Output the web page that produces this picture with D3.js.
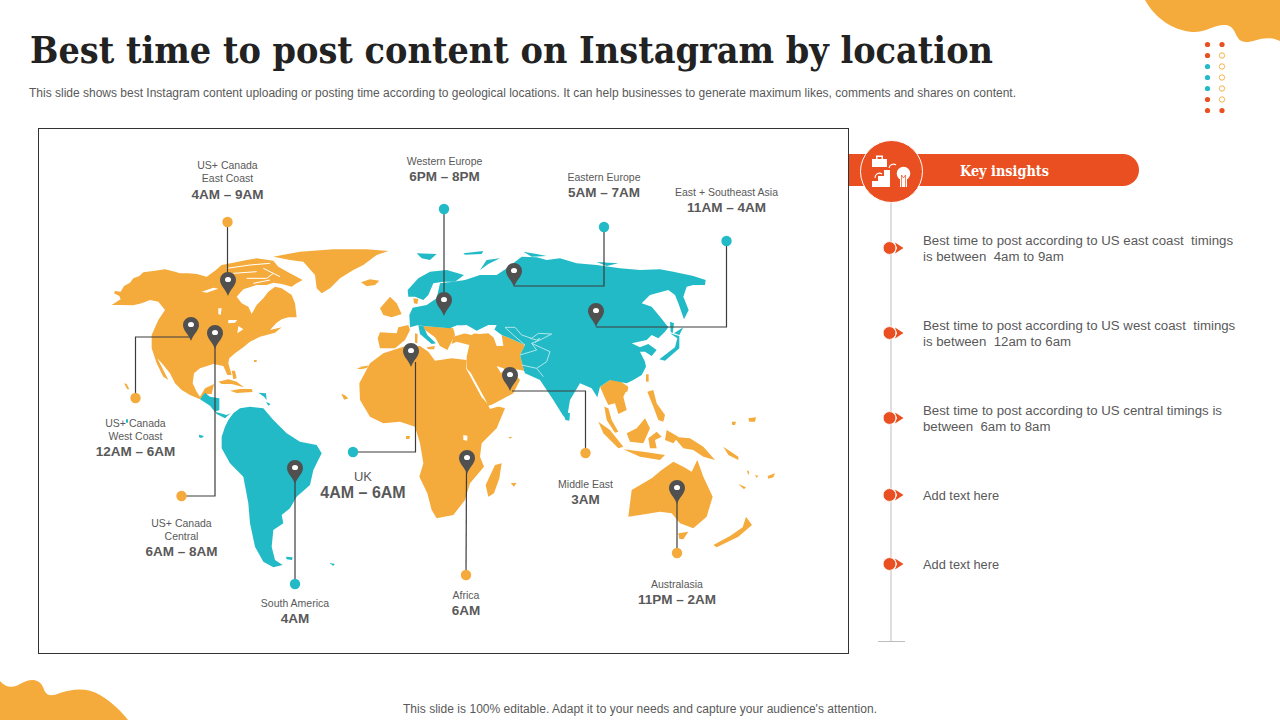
<!DOCTYPE html>
<html><head><meta charset="utf-8">
<script src="https://cdn.jsdelivr.net/npm/d3@7"></script>
<style>html,body{margin:0;padding:0;background:#fff;overflow:hidden}svg{display:block}text{font-family:"Liberation Sans",Arial,sans-serif;white-space:pre}</style>
</head><body><svg id="c" width="1280" height="720"></svg>
<script>
// ---------- content ----------
const titleText = "Best time to post content on Instagram by location";
const subtitleText = "This slide shows best Instagram content uploading or posting time according to geological locations. It can help businesses to generate maximum likes, comments and shares on content.";
const footerText = "This slide is 100% editable. Adapt it to your needs and capture your audience's attention.";
const insightsHeading = "Key insights";
const insightLines = [
  ["Best time to post according to US east coast  timings","is between  4am to 9am"],
  ["Best time to post according to US west coast  timings","is between  12am to 6am"],
  ["Best time to post according to US central timings is","between  6am to 8am"],
  ["Add text here"],
  ["Add text here"]
];
const regionNames = [["US+ Canada","East Coast"],["Western Europe"],["Eastern Europe"],["East + Southeast Asia"],["US+ Canada","West Coast"],["US+ Canada","Central"],["UK"],["Middle East"],["Africa"],["South America"],["Australasia"]];
const regionTimes = ["4AM – 9AM","6PM – 8PM","5AM – 7AM","11AM – 4AM","12AM – 6AM","6AM – 8AM","4AM – 6AM","3AM","6AM","4AM","11PM – 2AM"];
const regionColours = ["orange","teal","teal","teal","orange","orange","teal","orange","orange","teal","orange"];
const regionPins = [[228,296],[444,316],[514,287],[596,327],[191,341],[215,349],[411,367],[510,391],[467,474],[295,484],[677,504]];
const regionDots = [[227.5,222],[444,209],[604,227],[726.5,241],[135.5,398],[181.5,496],[353,452],[585.5,453],[466,575],[295,584],[677,553]];
const regionElbows = [null,null,[604,286],[726.5,327],[135.5,337],[215,496],[415.5,452],[585.5,391],null,null,null];
const regionEnds = [[227.5,290],[444,310],[514,286],[596,327],[191,337],[215,345],[415.5,362],[512,391],[466.5,470],[295,480],[677,500]];
const regionLabelX = [227.5,444.5,604,726.5,135.5,181.5,363,585.5,466,295,677];
const regionLabelY = [[169,182,199],[165,181],[181,197],[196,212],[427,440,456],[527,540,556],[481,498],[488,504],[599,615],[607,623],[588,604]];

// West-hemisphere land, map units
const naMain = [[35,195],[50,185],[62,178],[58,168],[42,160],[45,153],[62,155],[72,138],[90,128],[100,115],[118,108],[130,97],[165,92],[195,88],[225,95],[240,100],[265,100],[290,102],[320,110],[345,92],[365,75],[400,68],[440,60],[470,55],[520,62],[535,80],[570,100],[608,120],[590,130],[575,140],[545,132],[520,128],[500,135],[470,135],[430,148],[410,170],[425,190],[445,200],[455,222],[470,195],[490,175],[505,155],[525,140],[545,145],[575,165],[585,190],[590,232],[565,232],[545,238],[530,248],[510,270],[545,262],[525,278],[480,290],[450,305],[430,322],[405,340],[388,355],[385,370],[395,405],[382,405],[370,378],[340,372],[300,385],[282,400],[278,430],[290,455],[300,470],[315,445],[342,432],[335,462],[315,462],[300,478],[270,465],[245,450],[225,430],[210,400],[190,375],[172,355],[205,420],[190,410],[170,370],[155,325],[155,285],[175,240],[195,210],[175,185],[150,180],[125,190],[100,196],[60,195]];
const naIslands = [
 [[645,105],[610,65],[570,60],[520,50],[600,35],[700,28],[800,28],[865,33],[830,45],[790,75],[760,90],[720,115],[690,145],[665,160],[650,145]],
 [[783,127],[810,118],[838,122],[825,135],[800,139]],
 [[355,425],[385,418],[410,425],[432,442],[395,432],[365,432]],
 [[390,452],[420,447],[455,447],[458,456],[410,459]],
 [[72,430],[80,432],[88,448],[82,448]],
 [[725,462],[735,466],[745,476],[732,478]],
 [[770,385],[790,380],[806,376],[800,384],[780,388]],
 [[462,360],[470,360],[470,366],[462,366]],
 [[395,392],[405,392],[410,415],[400,418]]
];
const saMain = [[365,590],[375,560],[385,540],[400,520],[420,505],[450,500],[490,505],[520,540],[560,580],[600,605],[650,615],[665,640],[640,690],[630,735],[590,770],[570,805],[545,825],[550,850],[520,870],[515,920],[525,960],[548,975],[520,982],[490,965],[465,920],[450,850],[445,790],[430,710],[390,670],[365,625]];
const caBridge = [[300,478],[315,458],[330,470],[358,475],[358,510],[345,515],[380,525],[392,520],[375,535],[350,522],[330,497]];
const tealIslandsWest = [[[558,950],[578,952],[576,960],[560,958]],[[688,968],[704,972],[700,978]],[[297,584],[312,588],[305,594],[297,592]],[[475,458],[498,460],[500,480],[492,470]],[[78,538],[84,538],[84,548],[78,548]],[[498,485],[512,492],[505,497]]];
const westSeas = [
 [[355,205],[365,205],[362,225],[355,222]],
 [[385,240],[412,240],[405,248],[385,250]],
 [[415,258],[430,268],[412,280]],
 [[305,155],[340,143],[355,146],[320,158]]
];
const arcticSlits = [[[380,85],[450,75],[510,70]],[[400,100],[470,95]],[[440,115],[500,115],[520,100]],[[490,85],[540,110]],[[460,130],[510,120]]];

// East-hemisphere land, map units
const africa = [[58,430],[90,370],[130,340],[190,320],[240,318],[265,335],[285,362],[335,355],[380,360],[378,385],[400,420],[440,490],[495,505],[470,565],[425,610],[420,650],[432,680],[390,730],[375,780],[340,825],[290,835],[275,810],[262,760],[238,710],[250,670],[240,610],[225,560],[180,545],[130,550],[90,530],[60,480]];
const middleEast = [[340,290],[380,278],[420,282],[445,280],[470,300],[490,318],[485,285],[510,295],[555,315],[540,345],[552,392],[510,385],[540,420],[520,460],[450,497],[440,490],[400,420],[380,385],[380,350],[388,315],[350,305],[335,312]];
const westEurope = [[[113,295],[120,277],[170,280],[175,262],[205,255],[210,270],[195,300],[165,325],[120,325]],[[120,205],[150,170],[170,190],[185,222],[155,232],[130,225]],[[220,175],[235,177],[232,192],[222,190]],[[225,280],[233,282],[232,310],[225,308]],[[260,322],[285,318],[282,328],[265,328]]];
const balkans = [[250,258],[300,262],[340,265],[345,285],[322,330],[300,318],[285,292],[255,270]];
const seAsia = [
 [[780,440],[810,420],[835,420],[865,440],[850,470],[860,510],[835,522],[825,490],[805,495],[795,475]],
 [[793,500],[805,505],[815,540],[835,575],[825,578],[800,540]],
 [[775,545],[810,570],[850,620],[835,625],[790,580]],
 [[850,628],[910,635],[975,645],[960,660],[900,650]],
 [[860,580],[890,565],[915,535],[930,565],[910,610],[870,605]],
 [[925,595],[950,575],[965,590],[945,600],[950,625],[930,625]],
 [[922,455],[940,450],[950,490],[975,525],[970,545],[955,540],[940,500]],
 [[1000,590],[1050,595],[1090,620],[1125,660],[1090,650],[1060,630],[1030,625]],
 [[918,403],[926,403],[926,425],[918,425]],
 [[850,442],[865,442],[862,455],[850,455]],
 [[980,570],[1015,590],[1000,610],[975,600]],
 [[1150,620],[1195,650],[1195,660],[1165,645]],
 [[1225,535],[1248,532],[1245,545],[1228,545]],
 [[1175,545],[1188,545],[1185,555],[1177,555]]
];
const australia = [[865,830],[875,750],[935,715],[965,690],[1000,665],[1030,680],[1055,695],[1072,660],[1090,710],[1118,770],[1100,830],[1060,865],[1020,850],[995,820],[960,815],[900,825]];
const oceania = [[[1015,880],[1045,875],[1030,898],[1018,897]],[[1120,915],[1170,888],[1208,862],[1218,830],[1236,855],[1195,890],[1130,922]],[[1195,732],[1218,742],[1212,748]],[[1283,708],[1305,700],[1300,712],[1285,716]],[[1220,690],[1228,695],[1225,706]],[[1245,705],[1255,707],[1250,714]]];
const madagascar = [[465,675],[485,670],[478,715],[462,760],[445,770],[437,735]];
const africaIslands = [[[198,588],[210,588],[208,597],[198,597]],[[4,462],[22,472],[14,480]],[[60,380],[85,378],[70,386]],[[512,730],[530,728],[522,740]],[[505,592],[518,590],[510,596]]];
const eurasia = [[210,262],[208,225],[218,203],[260,195],[290,175],[300,130],[340,125],[375,120],[420,105],[470,105],[500,85],[545,50],[590,52],[620,60],[660,55],[710,70],[770,75],[840,85],[900,90],[960,88],[1000,95],[1060,108],[1097,120],[1095,135],[1060,135],[1040,140],[1030,170],[1046,210],[1032,238],[1015,190],[1005,165],[985,150],[930,165],[905,190],[935,200],[960,230],[985,262],[975,275],[955,295],[935,285],[920,300],[875,310],[900,322],[925,312],[950,330],[935,348],[915,335],[900,335],[915,365],[918,380],[905,405],[880,420],[860,430],[810,420],[780,440],[772,472],[755,445],[720,430],[690,480],[680,540],[668,525],[640,480],[600,420],[555,400],[552,392],[540,345],[555,315],[510,295],[485,285],[445,255],[410,272],[380,255],[345,258],[330,265],[250,258],[235,255]];
const italy = [[235,255],[250,258],[262,285],[288,310],[275,312],[240,282]];
const scandinavia = [[203,150],[235,115],[270,95],[320,90],[372,105],[345,125],[310,125],[280,130],[265,165],[250,180],[225,170],[205,170]];
const eastTeal = [
 [[230,40],[290,42],[270,60],[245,55]],
 [[420,90],[440,60],[480,55],[445,72]],
 [[550,35],[590,42],[620,48],[575,50]],
 [[770,66],[835,70],[800,78]],
 [[370,40],[430,33],[425,42],[375,44]],
 [[672,515],[690,520],[688,542],[676,540]],
 [[958,358],[1005,322],[1012,295],[990,280],[1018,288],[1018,325],[975,362]],
 [[990,245],[1002,250],[998,280],[992,275]],
 [[1002,280],[1030,262],[1018,285]]
];
const eastSeas = [
 [[340,270],[350,256],[375,258],[410,275],[395,285],[365,278]],
 [[378,385],[392,398],[442,490],[425,472]],
 [[445,497],[495,482],[500,492],[450,507]],
 [[470,378],[490,385],[500,395],[482,398]],
 [[370,585],[382,587],[382,602],[370,600]],
 [[262,190],[285,165],[296,135],[288,135],[272,168]],
 [[445,255],[470,255],[460,275],[475,300],[490,318],[470,318],[460,290],[445,275]]
];
const borderLines = [
 [[495,262],[525,262],[545,285],[575,295],[595,280],[635,282],[600,300],[575,310],[630,335],[620,365],[590,385],[610,410]],
 [[540,345],[590,330],[575,310]],
 [[545,375],[590,385]],
 [[555,315],[520,285],[495,262]],
 [[570,295],[590,300],[600,295],[585,308]]
];
const legendDotsLeft = ["red","red","teal","teal","teal","red","red"];
const legendDotsRight = ["red","open","open","open","open","open","red"];
const bulletY = [248,333,418,495,564];
const insightY = [[245,261],[330,346],[415,431],[500],[569]];

// ---------- drawing ----------
const colours = {orange:"#F5AB3B",teal:"#22BAC6",red:"#E94F20",dark:"#505050",text:"#595959"};
const svg = d3.select("#c");
const xW = d3.scaleLinear().domain([0,1020]).range([100,440]);
const xE = d3.scaleLinear().domain([0,1350]).range([340,790]);
const yM = d3.scaleLinear().domain([0,960]).range([240,560]);
const lineW = d3.line().x(d=>xW(d[0])).y(d=>yM(d[1]));
const lineE = d3.line().x(d=>xE(d[0])).y(d=>yM(d[1]));

// blobs
svg.append("path").attr("fill",colours.orange).attr("d","M1145,0C1155,18 1172,30 1192,32C1205,33 1215,24 1226,25C1238,27 1234,42 1246,42C1255,42 1265,34 1280,41L1280,0Z");
svg.append("path").attr("fill",colours.orange).attr("d","M0,681C8,690 15,687 24,682C32,678 40,680 43,687C46,696 50,697 60,693C75,688 88,688 100,695C112,702 122,712 128,720L0,720Z");

// legend dots
const dotY = d3.scalePoint().domain(d3.range(7)).range([44.5,110.5]);
svg.selectAll(".dl").data(legendDotsLeft).join("circle").attr("cx",1207.5).attr("cy",(d,i)=>dotY(i)).attr("r",2.6).attr("fill",d=>colours[d]);
svg.selectAll(".dr").data(legendDotsRight).join("circle").attr("cx",1222).attr("cy",(d,i)=>dotY(i))
  .attr("r",d=>d==="open"?2.7:2.6).attr("fill",d=>d==="open"?"#fff":colours.red).attr("stroke",d=>d==="open"?colours.orange:"none").attr("stroke-width",.9);

// title etc
svg.append("text").attr("x",30).attr("y",63).attr("textLength",963).attr("lengthAdjust","spacingAndGlyphs")
  .style("font-family","'DejaVu Serif',serif").style("font-weight",700).style("font-size","37px").attr("fill","#222").text(titleText);
svg.append("text").attr("x",29).attr("y",97).attr("textLength",987).attr("lengthAdjust","spacing").style("font-size","12px").attr("fill",colours.text).text(subtitleText);
svg.append("text").attr("x",403).attr("y",713).attr("textLength",474).attr("lengthAdjust","spacing").style("font-size","12px").attr("fill",colours.text).text(footerText);

// frame
svg.append("rect").attr("x",38.5).attr("y",128.5).attr("width",810).attr("height",525).attr("fill","#fff").attr("stroke","#333").attr("stroke-width",1);

// map
const drawPolys = (polys,line,fill)=>polys.forEach(p=>svg.append("path").attr("d",line(p)+"Z").attr("fill",fill));
drawPolys([naMain,...naIslands],lineW,colours.orange);
drawPolys([saMain,caBridge,...tealIslandsWest],lineW,colours.teal);
drawPolys(westSeas,lineW,"#fff");
arcticSlits.forEach(p=>svg.append("path").attr("d",lineW(p)).attr("fill","none").attr("stroke","#fff").attr("stroke-width",1));
drawPolys([africa,middleEast,...westEurope,balkans,...seAsia,australia,...oceania,madagascar,...africaIslands],lineE,colours.orange);
drawPolys([eurasia,italy,scandinavia,...eastTeal],lineE,colours.teal);
drawPolys(eastSeas,lineE,"#fff");
borderLines.forEach(p=>svg.append("path").attr("d",lineE(p)).attr("fill","none").attr("stroke","#BDEBEF").attr("stroke-width",.9));

// leaders
regionDots.forEach((dot,i)=>{
  const pts=[dot]; if(regionElbows[i]) pts.push(regionElbows[i]);
  pts.push(regionEnds[i]);
  svg.append("path").attr("d",d3.line()(pts)).attr("fill","none").attr("stroke","#3c3c3c").attr("stroke-width",1.2);
});
svg.selectAll(".rd").data(regionDots).join("circle").attr("cx",d=>d[0]).attr("cy",d=>d[1]).attr("r",5.2).attr("fill",(d,i)=>colours[regionColours[i]]);
// pins
const pinG = svg.selectAll(".pin").data(regionPins).join("g").attr("transform",d=>`translate(${d[0]},${d[1]})`);
pinG.append("path").attr("fill",colours.dark).attr("d","M0,0C-2.5,-7 -8,-10.5 -8,-16A8,8 0 1 1 8,-16C8,-10.5 2.5,-7 0,0Z");
pinG.append("ellipse").attr("cy",-16.5).attr("rx",3).attr("ry",2.6).attr("fill","#fff");

// region labels
regionNames.forEach((names,i)=>{
  const ys=regionLabelY[i], isUK=names[0]==="UK";
  names.forEach((n,k)=>svg.append("text").attr("x",regionLabelX[i]).attr("y",ys[k]).attr("text-anchor","middle")
    .style("font-size",isUK?"13px":"10.5px").attr("fill",colours.text).text(n));
  svg.append("text").attr("x",regionLabelX[i]).attr("y",ys[names.length]).attr("text-anchor","middle")
    .style("font-size",isUK?"16px":"13.5px").style("font-weight",700).attr("fill",colours.text).text(regionTimes[i]);
});

// insights panel
svg.append("path").attr("fill",colours.red).attr("d","M849,154H1123A16,16 0 0 1 1123,186H849Z");
svg.append("line").attr("x1",891).attr("x2",891).attr("y1",200).attr("y2",641).attr("stroke","#bdbdbd").attr("stroke-width",1);
svg.append("line").attr("x1",878).attr("x2",905).attr("y1",641.5).attr("y2",641.5).attr("stroke","#bdbdbd").attr("stroke-width",1);
svg.append("circle").attr("cx",891.5).attr("cy",171.5).attr("r",31).attr("fill",colours.red).attr("stroke","#fff").attr("stroke-width",1);
const icon=svg.append("g").attr("fill","#fff");
icon.append("path").attr("d","M872,159H887V167H872ZM876,159V155.5H883V159H881.5V157H877.5V159Z");
icon.append("path").attr("d","M872,187V181H878V176H884V170H890V187Z");
icon.append("path").attr("d","M875,178A4.5,4.5 0 0 1 882,174M889,168A4.5,4.5 0 0 1 896,165").attr("fill","none").attr("stroke","#fff").attr("stroke-width",1.1);
icon.append("circle").attr("cx",903.5).attr("cy",173.5).attr("r",6.8);
icon.append("path").attr("d","M900,179H907V187H900Z");
svg.append("path").attr("d","M901.5,187V175L903.5,178L905.5,175V187").attr("fill","none").attr("stroke",colours.red).attr("stroke-width",.7);
svg.append("text").attr("x",960).attr("y",176).style("font-family","'DejaVu Serif',serif").style("font-weight",700).style("font-size","14.5px").attr("textLength",89).attr("lengthAdjust","spacingAndGlyphs").attr("fill","#fff").text(insightsHeading);

bulletY.forEach((y,i)=>{
  svg.append("path").attr("d",`M895,${y-5.5}L903.5,${y}L895,${y+5.5}L897,${y}Z`).attr("fill",colours.red);
  svg.append("circle").attr("cx",889.5).attr("cy",y).attr("r",6.4).attr("fill",colours.red).attr("stroke","#fff").attr("stroke-width",.8);
  insightLines[i].forEach((t,k)=>svg.append("text").attr("x",923).attr("y",insightY[i][k]).style("font-size",i<3?"13.25px":"12.8px").attr("fill",colours.text).text(t));
});
</script></body></html>
